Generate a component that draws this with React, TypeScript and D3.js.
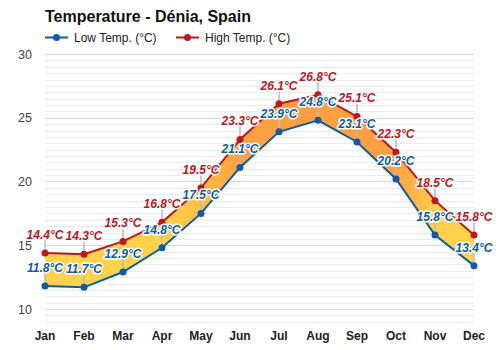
import React, { useEffect, useRef } from "react";
import * as d3 from "d3";

const months = ["Jan", "Feb", "Mar", "Apr", "May", "Jun", "Jul", "Aug", "Sep", "Oct", "Nov", "Dec"];
const lowTemps = [11.8, 11.7, 12.9, 14.8, 17.5, 21.1, 23.9, 24.8, 23.1, 20.2, 15.8, 13.4];
const highTemps = [14.4, 14.3, 15.3, 16.8, 19.5, 23.3, 26.1, 26.8, 25.1, 22.3, 18.5, 15.8];
const yTicks = [10, 15, 20, 25, 30];

const LOW_COLOR = "#0e5ba6";
const HIGH_COLOR = "#c0151b";

const App = () => {
  const svgRef = useRef<SVGSVGElement>(null);

  useEffect(() => {
    const svg = d3.select(svgRef.current).attr("width", 500).attr("height", 350);
    svg.selectAll("*").remove();

    const x = d3.scalePoint<string>().domain(months).range([45, 474]);
    const y = d3.scaleLinear().domain([9, 30]).range([321.75, 54]);

    const font = "Liberation Sans, Arial, sans-serif";

    // grid, a line every half degree
    const grid = d3.range(9, 30.01, 0.5);
    svg
      .append("g")
      .selectAll("line")
      .data(grid)
      .enter()
      .append("line")
      .attr("x1", x("Jan")!)
      .attr("x2", x("Dec")!)
      .attr("y1", (d) => Math.round(y(d)) + 0.5)
      .attr("y2", (d) => Math.round(y(d)) + 0.5)
      .attr("stroke", (d) => (d % 5 === 0 ? "#d6d6d6" : "#ececec"))
      .attr("stroke-width", 1);

    // y tick labels
    svg
      .append("g")
      .selectAll("text")
      .data(yTicks)
      .enter()
      .append("text")
      .attr("x", 32)
      .attr("y", (d) => y(d) + 4.5)
      .attr("text-anchor", "end")
      .attr("font-family", font)
      .attr("font-size", "12.5px")
      .attr("fill", "#444")
      .text((d) => d);

    // x labels
    svg
      .append("g")
      .selectAll("text")
      .data(months)
      .enter()
      .append("text")
      .attr("x", (d) => x(d)!)
      .attr("y", 340)
      .attr("text-anchor", "middle")
      .attr("font-family", font)
      .attr("font-size", "12px")
      .attr("font-weight", "bold")
      .attr("fill", "#222")
      .text((d) => d);

    // fill gradient by month mean temperature
    const warm = d3
      .scaleLinear<string>()
      .domain([17, 21])
      .range(["#ffd24c", "#ffa040"])
      .clamp(true);
    const defs = svg.append("defs");
    const grad = defs
      .append("linearGradient")
      .attr("id", "bandFill")
      .attr("gradientUnits", "userSpaceOnUse")
      .attr("x1", x("Jan")!)
      .attr("x2", x("Dec")!)
      .attr("y1", 0)
      .attr("y2", 0);
    months.forEach((m, i) => {
      grad
        .append("stop")
        .attr("offset", i / (months.length - 1))
        .attr("stop-color", warm((lowTemps[i] + highTemps[i]) / 2));
    });

    const idx = months.map((_, i) => i);
    const area = d3
      .area<number>()
      .x((i) => x(months[i])!)
      .y0((i) => y(lowTemps[i]))
      .y1((i) => y(highTemps[i]));
    svg.append("path").datum(idx).attr("d", area).attr("fill", "url(#bandFill)");

    // leader lines
    const leaders = svg.append("g");
    [lowTemps, highTemps].forEach((vals) => {
      leaders
        .selectAll(null)
        .data(idx)
        .enter()
        .append("line")
        .attr("x1", (i) => x(months[i])!)
        .attr("x2", (i) => x(months[i])!)
        .attr("y1", (i) => y(vals[i]))
        .attr("y2", (i) => y(vals[i]) - 13)
        .attr("stroke", "#bbb")
        .attr("stroke-width", 1.5);
    });

    const line = (vals: number[]) =>
      d3
        .line<number>()
        .x((i) => x(months[i])!)
        .y((i) => y(vals[i]));

    const series = [
      { vals: lowTemps, color: LOW_COLOR },
      { vals: highTemps, color: HIGH_COLOR },
    ];

    series.forEach((s) => {
      svg
        .append("path")
        .datum(idx)
        .attr("d", line(s.vals))
        .attr("fill", "none")
        .attr("stroke", s.color)
        .attr("stroke-width", 2);
      svg
        .append("g")
        .selectAll("circle")
        .data(idx)
        .enter()
        .append("circle")
        .attr("cx", (i) => x(months[i])!)
        .attr("cy", (i) => y(s.vals[i]))
        .attr("r", 3.5)
        .attr("fill", s.color);
    });

    // value labels
    series.forEach((s) => {
      svg
        .append("g")
        .selectAll("text")
        .data(idx)
        .enter()
        .append("text")
        .attr("x", (i) => x(months[i])!)
        .attr("y", (i) => y(s.vals[i]) - 14)
        .attr("text-anchor", "middle")
        .attr("font-family", font)
        .attr("font-size", "12px")
        .attr("font-weight", "bold")
        .attr("font-style", "italic")
        .attr("fill", s.color)
        .attr("stroke", "#fff")
        .attr("stroke-width", 3)
        .attr("stroke-linejoin", "round")
        .attr("paint-order", "stroke")
        .text((i) => `${s.vals[i].toFixed(1)}°C`);
    });

    // title
    svg
      .append("text")
      .attr("x", 45)
      .attr("y", 22)
      .attr("font-family", font)
      .attr("font-size", "16px")
      .attr("font-weight", "bold")
      .attr("fill", "#111")
      .text("Temperature - Dénia, Spain");

    // legend
    const legend = [
      { label: "Low Temp. (°C)", color: LOW_COLOR, x0: 45 },
      { label: "High Temp. (°C)", color: HIGH_COLOR, x0: 176 },
    ];
    legend.forEach((l) => {
      const g = svg.append("g");
      g.append("line")
        .attr("x1", l.x0)
        .attr("x2", l.x0 + 23)
        .attr("y1", 37.5)
        .attr("y2", 37.5)
        .attr("stroke", l.color)
        .attr("stroke-width", 2);
      g.append("circle").attr("cx", l.x0 + 11.5).attr("cy", 37.5).attr("r", 3.5).attr("fill", l.color);
      g.append("text")
        .attr("x", l.x0 + 29)
        .attr("y", 42)
        .attr("font-family", font)
        .attr("font-size", "12px")
        .attr("fill", "#222")
        .text(l.label);
    });
  }, []);

  return (
    <div style={{ position: "absolute", left: 0, top: 0 }}>
      <svg ref={svgRef}></svg>
    </div>
  );
};

export default App;
